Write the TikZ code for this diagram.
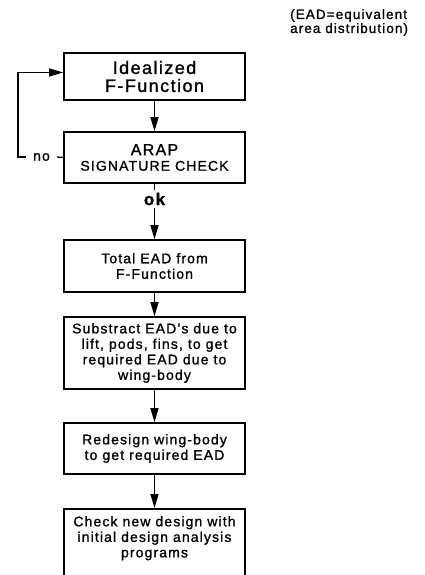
\documentclass[tikz,border=0pt]{standalone}
\usepackage{fontspec}
\setmainfont{Liberation Sans}[LetterSpace=8,FakeBold=1.2]
\usetikzlibrary{arrows.meta}
\begin{document}
\begin{tikzpicture}[x=1pt,y=-1pt,
  box/.style={draw, line width=1.6pt, minimum width=181pt, inner sep=0pt, align=center, font=\fontsize{14}{15.5}\selectfont},
  arr/.style={line width=1.3pt, -{Triangle[length=14pt,width=8pt]}},
  ln/.style={line width=1.3pt},
  lbl/.style={inner sep=2.5pt}]
\useasboundingbox (0,0) rectangle (425,575);
\node[align=left, anchor=north west, inner sep=0pt, font=\fontsize{13.5}{14}\selectfont] (note) at (290,9) {(EAD=equivalent\\area distribution)};
\node[box, minimum height=47pt, font=\fontsize{18}{18}\selectfont] (b1) at (154.5,76.5) {Idealized\\F-Function};
\node[box, minimum height=51pt] (b2) at (154.5,157.5) {{\fontsize{16}{17}\selectfont ARAP}\\SIGNATURE CHECK};
\node[lbl, font=\fontsize{17}{17}\selectfont\bfseries] (ok) at (154.5,199) {ok};
\node[box, minimum height=52pt] (b3) at (154.5,266) {Total EAD from\\F-Function};
\node[box, minimum height=72pt] (b4) at (154.5,353) {Substract EAD's due to\\lift, pods, fins, to get\\required EAD due to\\wing-body};
\node[box, minimum height=51pt] (b5) at (154.5,448.5) {Redesign wing-body\\to get required EAD};
\node[box, minimum height=82pt, anchor=north] (b6) at (154.5,508) {};
\node[align=center, anchor=north, inner sep=0pt, font=\fontsize{14}{15.5}\selectfont] (b6t) at (154.5,516) {Check new design with\\initial design analysis\\programs};
\node[inner sep=1pt, inner xsep=7pt, font=\fontsize{14}{14}\selectfont] (no) at (41.5,157) {no};
\coordinate (lp) at (18,0);
\draw[ln] (b2.west) -- (no.east);
\draw[arr] (no.west) -- (no.west -| lp) |- ([yshift=4pt]b1.west);
\draw[arr] (b1) -- (b2);
\draw[ln] (b2) -- (ok);
\draw[arr] (ok) -- (b3);
\draw[arr] (b3) -- (b4);
\draw[arr] (b4) -- (b5);
\draw[arr] (b5) -- (b6);
\end{tikzpicture}
\end{document}
